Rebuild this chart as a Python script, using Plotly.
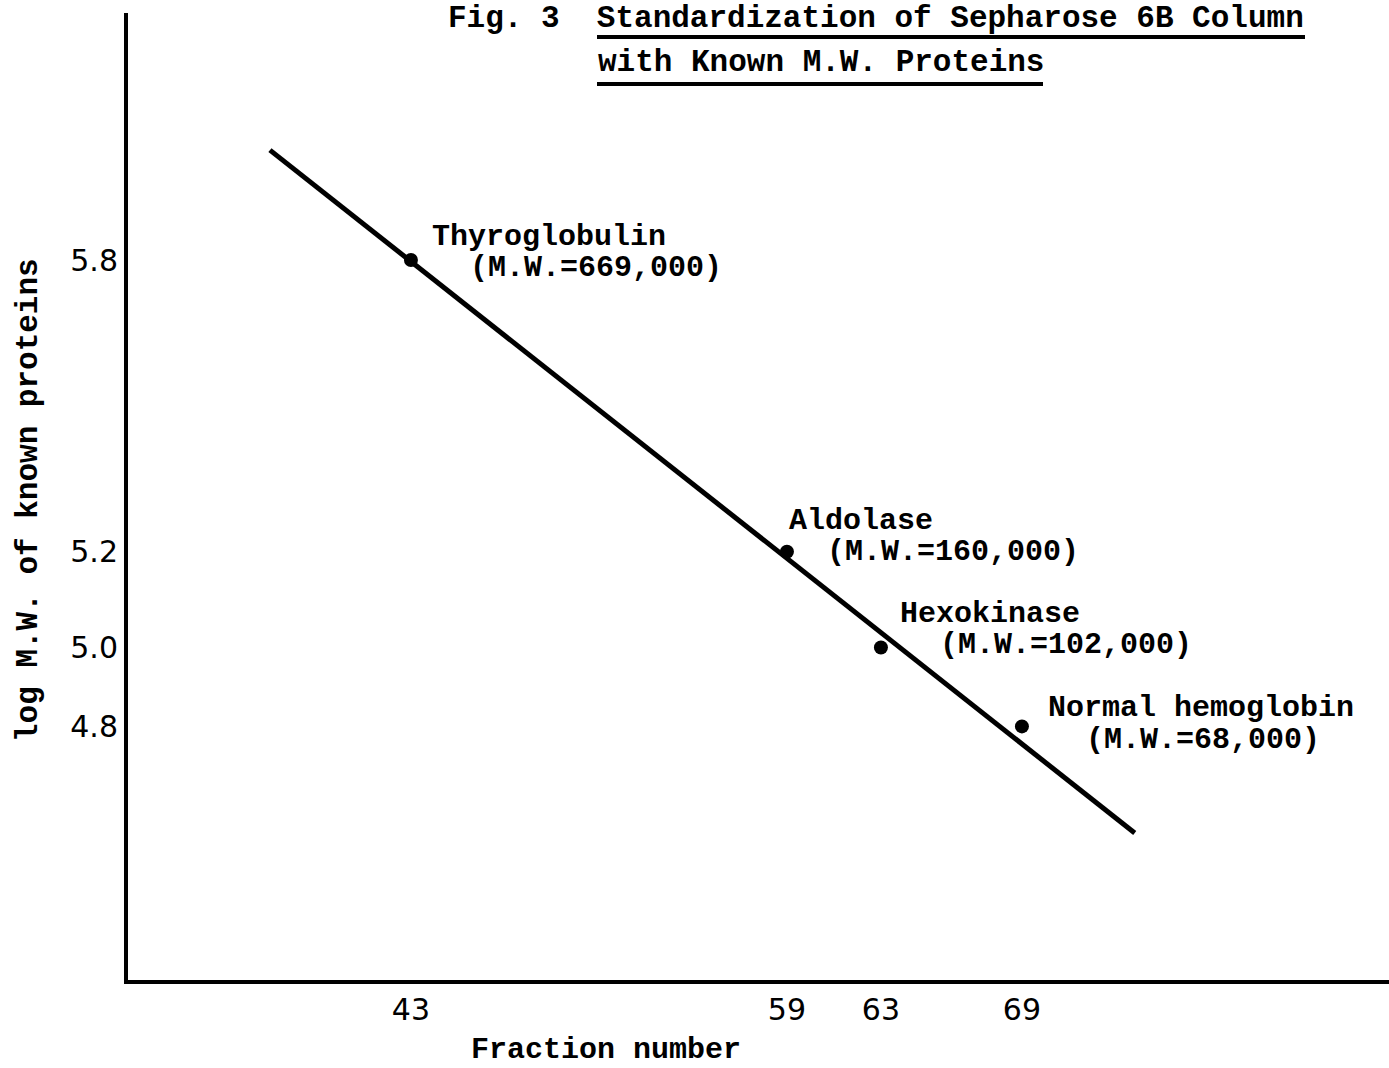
import plotly.graph_objects as go

# ---- data ----
proteins = ["Thyroglobulin", "Aldolase", "Hexokinase", "Normal hemoglobin"]
mw_labels = ["(M.W.=669,000)", "(M.W.=160,000)", "(M.W.=102,000)", "(M.W.=68,000)"]
fraction = [43, 59, 63, 69]
log_mw = [5.825, 5.204, 5.000, 4.832]
tick_text_y = ["5.8", "5.2", "5.0", "4.8"]
tick_text_x = ["43", "59", "63", "69"]

fit_x = [37.0, 73.8]
fit_y = [6.059, 4.605]

# ---- styles ----
MONO = "Liberation Mono, Courier New, monospace"
HAND = "DejaVu Sans, Arial, sans-serif"
# pixel offsets (xshift, yshift) for name line and M.W. line of each label
name_off = [(19, 23), (0, 31), (17, 33), (24, 18)]
mw_off = [(57, -8), (38, 0), (57, 2), (62, -14)]

fig = go.Figure()
fig.add_trace(go.Scatter(x=fit_x, y=fit_y, mode="lines",
                         line=dict(color="black", width=5), hoverinfo="skip"))
fig.add_trace(go.Scatter(x=fraction, y=log_mw, mode="markers",
                         marker=dict(color="black", size=14)))

for i in range(len(proteins)):
    fig.add_annotation(x=fraction[i], y=log_mw[i], text="<b>%s</b>" % proteins[i],
                       showarrow=False, xanchor="left", yanchor="middle",
                       xshift=name_off[i][0], yshift=name_off[i][1],
                       font=dict(family=MONO, size=30, color="black"))
    fig.add_annotation(x=fraction[i], y=log_mw[i], text="<b>%s</b>" % mw_labels[i],
                       showarrow=False, xanchor="left", yanchor="middle",
                       xshift=mw_off[i][0], yshift=mw_off[i][1],
                       font=dict(family=MONO, size=30, color="black"))

# title
W, H = 1389, 1068
L, R, T, B = 128, 0, 13, 88
pw, ph = W - L - R, H - T - B


def px(xp):
    return (xp - L) / pw


def py(yp):
    return (H - B - yp) / ph


fig.add_annotation(xref="paper", yref="paper", x=px(447), y=py(18),
                   text="<b>Fig. 3  Standardization of Sepharose 6B Column</b>",
                   showarrow=False, xanchor="left", yanchor="middle", borderpad=0,
                   font=dict(family=MONO, size=31, color="black"))
fig.add_annotation(xref="paper", yref="paper", x=px(597), y=py(63),
                   text="<b>with Known M.W. Proteins</b>",
                   showarrow=False, xanchor="left", yanchor="middle", borderpad=0,
                   font=dict(family=MONO, size=31, color="black"))
fig.add_shape(type="line", xref="paper", yref="paper", x0=px(597), x1=px(1305),
              y0=py(37), y1=py(37), line=dict(color="black", width=4))
fig.add_shape(type="line", xref="paper", yref="paper", x0=px(597), x1=px(1043),
              y0=py(84), y1=py(84), line=dict(color="black", width=4))

# axis titles
fig.add_annotation(xref="paper", yref="paper", x=px(28), y=py(500),
                   text="<b>log M.W. of known proteins</b>", textangle=-90,
                   showarrow=False, xanchor="center", yanchor="middle",
                   font=dict(family=MONO, size=31, color="black"))
fig.add_annotation(xref="paper", yref="paper", x=px(606), y=py(1050),
                   text="<b>Fraction number</b>",
                   showarrow=False, xanchor="center", yanchor="middle", borderpad=0,
                   font=dict(family=MONO, size=30, color="black"))

fig.update_layout(
    width=W, height=H,
    margin=dict(l=L, r=R, t=T, b=B),
    paper_bgcolor="white", plot_bgcolor="white",
    showlegend=False,
    xaxis=dict(range=[30.96, 84.62], tickmode="array", tickvals=fraction,
               ticktext=tick_text_x, showgrid=False, zeroline=False,
               showline=True, linecolor="black", linewidth=4, ticks="",
               tickfont=dict(family=HAND, size=30, color="black")),
    yaxis=dict(range=[4.292, 6.351], tickmode="array", tickvals=log_mw,
               ticktext=tick_text_y, showgrid=False, zeroline=False,
               showline=True, linecolor="black", linewidth=4, ticks="",
               tickfont=dict(family=HAND, size=30, color="black")),
)

fig.write_html("out.html")
